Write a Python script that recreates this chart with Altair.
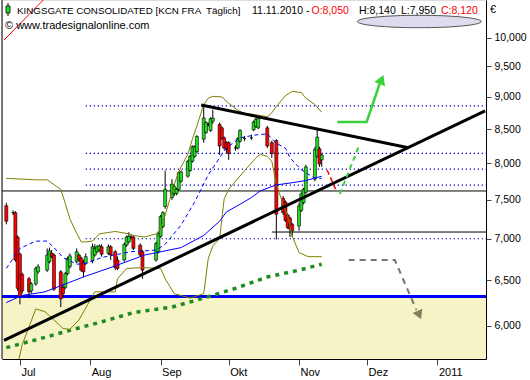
import altair as alt
import pandas as pd
import numpy as np

# ---------------- data ----------------
c_date = ["2010-06-25","2010-06-28","2010-06-29","2010-06-30","2010-07-01","2010-07-02",
          "2010-07-05","2010-07-06","2010-07-08","2010-07-09",
          "2010-07-13","2010-07-14","2010-07-15","2010-07-16",
          "2010-07-19","2010-07-20","2010-07-21","2010-07-22","2010-07-23",
          "2010-07-26","2010-07-27","2010-07-28","2010-07-29","2010-07-30",
          "2010-08-02","2010-08-03","2010-08-04","2010-08-05","2010-08-06",
          "2010-08-09","2010-08-10","2010-08-12","2010-08-13",
          "2010-08-16","2010-08-17","2010-08-18","2010-08-19","2010-08-20",
          "2010-08-23","2010-08-24",
          "2010-08-30","2010-08-31","2010-09-01","2010-09-02","2010-09-03",
          "2010-09-06","2010-09-07","2010-09-08","2010-09-09","2010-09-10",
          "2010-09-13","2010-09-14","2010-09-15","2010-09-16","2010-09-17",
          "2010-09-20","2010-09-21","2010-09-22","2010-09-23","2010-09-24",
          "2010-09-27","2010-09-28","2010-09-29","2010-09-30","2010-10-01",
          "2010-10-04","2010-10-05","2010-10-06","2010-10-08",
          "2010-10-11","2010-10-12","2010-10-13","2010-10-14",
          "2010-10-18","2010-10-20","2010-10-22",
          "2010-10-25","2010-10-26","2010-10-27","2010-10-28","2010-10-29",
          "2010-11-01","2010-11-02","2010-11-03","2010-11-04",
          "2010-11-08","2010-11-09","2010-11-10","2010-11-11"]
c_open = [7.42, 7.33, 7.33, 7.02, 6.81, 6.57,
          6.52, 6.38, 6.46, 6.60,
          6.62, 6.72, 6.82, 6.80,
          6.60, 6.42, 6.42, 6.58, 6.66,
          6.72, 6.80, 6.76, 6.72, 6.70,
          6.73, 6.80, 6.84, 6.86, 6.90,
          6.82, 6.90, 6.84, 6.74,
          6.74, 6.92, 6.96, 7.02, 7.02,
          6.92, 6.84,
          6.74, 6.84, 7.03, 7.15, 7.41,
          7.53, 7.58, 7.58, 7.64, 7.75,
          7.82, 7.90, 8.03, 8.10, 8.17,
          8.35, 8.45, 8.57, 8.48, 8.62,
          8.57, 8.52, 8.37, 8.30, 8.30,
          8.22, 8.22, 8.32, 8.36,
          8.37, 8.49, 8.54, 8.52,
          8.52, 8.30, 8.33,
          7.52, 7.47, 7.30, 7.26, 7.18,
          7.16, 7.36, 7.46, 7.60,
          7.78, 8.10, 8.21, 8.05]
c_high = [7.46, 7.36, 7.35, 7.04, 6.83, 6.59,
          6.54, 6.48, 6.66, 6.69,
          6.88, 6.89, 6.86, 6.82,
          6.62, 6.45, 6.60, 6.78, 6.82,
          6.88, 6.82, 6.78, 6.74, 6.82,
          6.94, 6.93, 6.92, 6.93, 6.93,
          6.93, 6.92, 6.86, 6.78,
          6.95, 7.04, 7.08, 7.05, 7.04,
          6.94, 6.86,
          6.96, 7.08, 7.30, 7.35, 7.90,
          7.78, 7.70, 7.66, 7.89, 7.90,
          8.05, 8.12, 8.26, 8.26, 8.41,
          8.86, 8.62, 8.60, 8.68, 8.80,
          8.60, 8.54, 8.39, 8.32, 8.32,
          8.26, 8.38, 8.50, 8.40,
          8.42, 8.63, 8.67, 8.70,
          8.55, 8.33, 8.35,
          7.55, 7.49, 7.32, 7.28, 7.20,
          7.46, 7.60, 7.66, 7.98,
          8.24, 8.50, 8.24, 8.14]
c_low = [7.18, 7.30, 6.72, 6.38, 6.23, 6.35,
         6.30, 6.35, 6.44, 6.58,
         6.60, 6.70, 6.76, 6.38,
         6.20, 6.30, 6.40, 6.56, 6.64,
         6.70, 6.72, 6.60, 6.54, 6.68,
         6.70, 6.78, 6.82, 6.84, 6.78,
         6.80, 6.74, 6.62, 6.62,
         6.72, 6.90, 6.94, 6.99, 6.86,
         6.78, 6.52,
         6.72, 6.82, 7.01, 7.13, 7.38,
         7.50, 7.55, 7.56, 7.62, 7.73,
         7.80, 7.88, 8.01, 8.08, 8.15,
         8.30, 8.43, 8.54, 8.46, 8.58,
         8.12, 8.34, 8.20, 8.15, 8.05,
         8.18, 8.20, 8.30, 8.32,
         8.34, 8.47, 8.52, 8.50,
         8.22, 8.08, 6.99,
         7.30, 7.21, 7.12, 7.02, 7.02,
         7.10, 7.34, 7.44, 7.58,
         7.75, 8.08, 7.95, 7.95]
c_close = [7.22, 7.33, 6.74, 6.41, 6.32, 6.38,
           6.37, 6.46, 6.64, 6.66,
           6.80, 6.85, 6.78, 6.40,
           6.29, 6.35, 6.58, 6.76, 6.79,
           6.84, 6.74, 6.62, 6.60, 6.78,
           6.90, 6.88, 6.90, 6.91, 6.81,
           6.90, 6.80, 6.65, 6.64,
           6.93, 7.02, 7.03, 7.02, 6.88,
           6.80, 6.62,
           6.94, 7.06, 7.28, 7.33, 7.64,
           7.71, 7.68, 7.64, 7.87, 7.88,
           8.03, 8.10, 8.24, 8.24, 8.39,
           8.67, 8.60, 8.57, 8.66, 8.67,
           8.25, 8.36, 8.22, 8.20, 8.14,
           8.22, 8.36, 8.48, 8.36,
           8.37, 8.61, 8.65, 8.66,
           8.25, 8.14, 7.31,
           7.33, 7.23, 7.14, 7.12, 7.10,
           7.42, 7.58, 7.64, 7.95,
           8.20, 8.38, 7.99, 8.12]

# Bollinger bands
ub_date = ["2010-06-25","2010-07-08","2010-07-13","2010-07-19","2010-07-21","2010-07-23","2010-07-26",
           "2010-07-28","2010-07-30","2010-08-02","2010-08-05","2010-08-12","2010-08-18","2010-08-20",
           "2010-08-25","2010-08-30","2010-09-01","2010-09-03","2010-09-06","2010-09-08","2010-09-10",
           "2010-09-13","2010-09-15","2010-09-17","2010-09-20","2010-09-22","2010-09-24","2010-09-28",
           "2010-10-01","2010-10-05","2010-10-08","2010-10-13","2010-10-18","2010-10-20","2010-10-22",
           "2010-10-26","2010-10-29","2010-11-02","2010-11-04","2010-11-08","2010-11-11"]
ub_val = [7.79, 7.77, 7.77, 7.64, 7.45, 7.25, 7.07, 6.96, 6.96, 6.97, 7.06, 7.09, 7.06, 7.04,
          7.02, 7.06, 7.12, 7.30, 7.60, 7.80, 7.95, 8.13, 8.35, 8.55, 8.88, 8.98, 9.01, 9.00,
          8.90, 8.79, 8.74, 8.72, 8.69, 8.75, 8.85, 9.02, 9.09, 9.07, 8.98, 8.88, 8.76]
lb_date = ["2010-06-25","2010-06-30","2010-07-02","2010-07-06","2010-07-08","2010-07-12","2010-07-16",
           "2010-07-20","2010-07-23","2010-07-27","2010-08-03","2010-08-12","2010-08-13","2010-08-17",
           "2010-08-24","2010-09-01","2010-09-03","2010-09-07","2010-09-14","2010-09-20","2010-09-22",
           "2010-09-24","2010-09-27","2010-09-29","2010-10-01","2010-10-07","2010-10-13","2010-10-15",
           "2010-10-18","2010-10-20","2010-10-22","2010-10-25","2010-10-27","2010-10-29","2010-11-01",
           "2010-11-05","2010-11-11"]
lb_val = [5.45, 5.60, 5.80, 6.05, 6.18, 6.15, 6.06, 5.97, 5.96, 6.06, 6.37, 6.37, 6.52, 6.64,
          6.65, 6.64, 6.52, 6.35, 6.30, 6.35, 6.76, 6.91, 7.00, 7.51, 7.64, 7.86, 8.08, 8.13,
          8.10, 8.03, 7.71, 7.44, 7.28, 7.03, 6.83, 6.78, 6.78]

# moving averages
mf_date = ["2010-06-25","2010-07-01","2010-07-08","2010-07-13","2010-07-16","2010-07-20","2010-07-26",
           "2010-07-30","2010-08-06","2010-08-19","2010-08-30","2010-09-03","2010-09-10","2010-09-16",
           "2010-09-22","2010-09-27","2010-09-30","2010-10-06","2010-10-12","2010-10-18","2010-10-22",
           "2010-10-26","2010-10-28","2010-11-02","2010-11-08","2010-11-11"]
mf_val = [6.64, 6.88, 6.97, 6.97, 6.89, 6.77, 6.69, 6.70, 6.77, 6.84, 6.86, 6.93, 7.17, 7.47,
          7.84, 8.08, 8.22, 8.37, 8.41, 8.43, 8.29, 8.22, 8.08, 7.91, 7.79, 7.79]
ms_date = ["2010-06-25","2010-07-02","2010-07-12","2010-07-23","2010-07-30","2010-08-11","2010-08-19",
           "2010-08-25","2010-09-03","2010-09-10","2010-09-20","2010-09-27","2010-09-30","2010-10-06",
           "2010-10-11","2010-10-15","2010-10-22","2010-10-29","2010-11-04","2010-11-11"]
ms_val = [6.25, 6.33, 6.37, 6.48, 6.55, 6.66, 6.74, 6.80, 6.85, 6.89, 7.04, 7.22, 7.34, 7.44,
          7.53, 7.62, 7.70, 7.73, 7.76, 7.82]
ml_date = ["2010-06-25","2010-07-08","2010-07-23","2010-08-06","2010-08-20","2010-09-06","2010-09-20",
           "2010-10-04","2010-10-18","2010-11-01","2010-11-11"]
ml_val = [5.77, 5.85, 5.95, 6.04, 6.14, 6.20, 6.30, 6.41, 6.54, 6.62, 6.69]

# horizontal levels
dotted_levels = [8.857, 8.144, 7.920, 7.696, 6.999]
dotted_start = "2010-07-30"
black_full_level = [7.618]
black_part_level = [7.083]
black_part_start = "2010-10-20"
support_level = [6.318]

# trend lines
rise_date = ["2010-06-24", "2011-01-22"]
rise_val = [5.844, 8.780]
fall_date = ["2010-09-18T21:00:00Z", "2010-12-19T06:00:00Z"]
fall_val = [8.872, 8.224]
redline_date = ["2010-06-24", "2010-07-13"]
redline_val = [9.956, 10.764]

# annotations
green_arrow_date = ["2010-11-17T21:00:00Z", "2010-11-30T19:00:00Z", "2010-12-06T12:00:00Z"]
green_arrow_val = [8.609, 8.609, 9.209]
green_head_date = ["2010-12-07T09:00:00Z"]
green_head_val = [9.282]
gray_arrow_date = ["2010-11-22T21:00:00Z", "2010-12-13T05:00:00Z", "2010-12-22T17:00:00Z"]
gray_arrow_val = [6.740, 6.740, 6.169]
gray_head_date = ["2010-12-24T00:00:00Z"]
gray_head_val = [6.114]
red_dash_date = ["2010-11-13T09:00:00Z", "2010-11-17T07:00:00Z"]
red_dash_val = [7.906, 7.631]
green_dash_date = ["2010-11-19T00:00:00Z", "2010-11-27T05:00:00Z"]
green_dash_val = [7.577, 8.235]
ellipse_date = ["2010-12-24"]
ellipse_val = [10.288]

y_ticks = [6.0, 6.5, 7.0, 7.5, 8.0, 8.5, 9.0, 9.5, 10.0]
month_ticks = [(2010, 7), (2010, 8), (2010, 9), (2010, 10), (2010, 11), (2010, 12), (2011, 1)]

header_main = "KINGSGATE CONSOLIDATED [KCN FRA \u00a0Täglich]"
header_date = "11.11.2010 -"
header_o = "O:8,050"
header_h = "H:8,140"
header_l = "L:7,950"
header_c = "C:8,120"
header_site = "© www.tradesignalonline.com"
currency = "€"

# ---------------- chart ----------------
W, H = 484, 359
FONT = "Liberation Sans"
GREEN = "#22dd22"
ARROW_GREEN = "#3ccf3c"

xs = alt.Scale(type="utc", nice=False,
               domain=[alt.DateTime(year=2010, month=6, date=25, hours=7, minutes=16, utc=True),
                       alt.DateTime(year=2011, month=1, date=20, hours=4, minutes=34, utc=True)])
ys = alt.Scale(type="log", domain=[5.655, 10.688], nice=False)

xa = alt.Axis(values=[alt.DateTime(year=y, month=m, date=1, utc=True) for y, m in month_ticks],
              labelExpr="utcmonth(datum.value) == 0 ? '' + utcyear(datum.value) : "
                        "['Jan','Feb','Mär','Apr','Mai','Jun','Jul','Aug','Sep','Okt','Nov','Dez'][utcmonth(datum.value)]",
              title=None, grid=False, domainColor="black", tickColor="#444", tickSize=6,
              labelAlign="left", labelBaseline="top", labelPadding=1, labelOffset=1,
              labelFont=FONT, labelFontSize=11, labelColor="black",
              labelFlush=False, labelOverlap=False)
ya = alt.Axis(orient="right", values=y_ticks,
              labelExpr="replace(format(datum.value, '.3f'), '.', ',')",
              title=None, grid=False, domainColor="black", tickColor="#444", tickSize=5,
              labelPadding=3, labelFont=FONT, labelFontSize=10.5, labelColor="black",
              labelAlign="left", labelBaseline="middle", labelFlush=False, labelOverlap=False)


def X(f="date"):
    return alt.X(f"{f}:T", scale=xs, axis=xa)


def Y(f="price"):
    return alt.Y(f"{f}:Q", scale=ys, axis=ya)


def series(dates, vals):
    return pd.DataFrame({"date": dates, "price": vals})


one = pd.DataFrame({"k": [0]})

candles = pd.DataFrame({"date": c_date, "open": c_open, "high": c_high,
                        "low": c_low, "close": c_close})
candles["dir"] = np.where(candles.close > candles.open, "up",
                          np.where(candles.close < candles.open, "down", "flat"))

layers = []
# yellow support zone
layers.append(alt.Chart(pd.DataFrame({"price": support_level})).mark_rect(color="#f6f3c6").encode(
    y=Y(), y2=alt.value(H), x=alt.value(0), x2=alt.value(W)))
# horizontal levels
layers.append(alt.Chart(pd.DataFrame({"date": [dotted_start] * len(dotted_levels), "price": dotted_levels}))
              .mark_rule(color="#0000cc", strokeWidth=1.2, strokeDash=[1.3, 2.7])
              .encode(x=X(), x2=alt.value(W), y=Y()))
layers.append(alt.Chart(pd.DataFrame({"price": black_full_level})).mark_rule(color="black", strokeWidth=1)
              .encode(y=Y(), x=alt.value(0), x2=alt.value(W)))
layers.append(alt.Chart(pd.DataFrame({"date": [black_part_start], "price": black_part_level}))
              .mark_rule(color="black", strokeWidth=1).encode(x=X(), x2=alt.value(W), y=Y()))
layers.append(alt.Chart(pd.DataFrame({"price": support_level})).mark_rule(color="#0000ff", strokeWidth=3)
              .encode(y=Y(), x=alt.value(0), x2=alt.value(W)))
# candles
layers.append(alt.Chart(candles).mark_rule(color="black", strokeWidth=1, clip=True).encode(
    x=X(), y=Y("low"), y2=alt.Y2("high")))
layers.append(alt.Chart(candles).mark_bar(size=3, stroke="black", strokeWidth=0.6, clip=True).encode(
    x=X(), y=Y("open"), y2=alt.Y2("close"),
    color=alt.Color("dir:N", scale=alt.Scale(domain=["up", "down", "flat"],
                                             range=[GREEN, "#ff0000", "#000000"]), legend=None)))
# indicators
layers.append(alt.Chart(series(ml_date, ml_val)).mark_line(color="#1f8a1f", strokeWidth=3.5, strokeDash=[4, 5], clip=True)
              .encode(x=X(), y=Y()))
layers.append(alt.Chart(series(ub_date, ub_val)).mark_line(color="#808000", strokeWidth=1, clip=True)
              .encode(x=X(), y=Y()))
layers.append(alt.Chart(series(lb_date, lb_val)).mark_line(color="#808000", strokeWidth=1, clip=True)
              .encode(x=X(), y=Y()))
layers.append(alt.Chart(series(ms_date, ms_val)).mark_line(color="#0000ff", strokeWidth=1, clip=True)
              .encode(x=X(), y=Y()))
layers.append(alt.Chart(series(mf_date, mf_val)).mark_line(color="#0000ff", strokeWidth=1, strokeDash=[4, 3], clip=True)
              .encode(x=X(), y=Y()))
# trend lines
layers.append(alt.Chart(series(rise_date, rise_val)).mark_line(color="black", strokeWidth=3, clip=True)
              .encode(x=X(), y=Y()))
layers.append(alt.Chart(series(fall_date, fall_val)).mark_line(color="black", strokeWidth=3, clip=True)
              .encode(x=X(), y=Y()))
layers.append(alt.Chart(series(redline_date, redline_val)).mark_line(color="#ff0000", strokeWidth=1, clip=True)
              .encode(x=X(), y=Y()))
# annotations
layers.append(alt.Chart(series(red_dash_date, red_dash_val)).mark_line(color="#ff0000", strokeWidth=1.5, strokeDash=[5, 3])
              .encode(x=X(), y=Y()))
layers.append(alt.Chart(series(green_dash_date, green_dash_val)).mark_line(color=ARROW_GREEN, strokeWidth=2, strokeDash=[5, 4])
              .encode(x=X(), y=Y()))
layers.append(alt.Chart(series(green_arrow_date, green_arrow_val)).mark_line(color=ARROW_GREEN, strokeWidth=2.5)
              .encode(x=X(), y=Y()))
layers.append(alt.Chart(series(green_head_date, green_head_val)).mark_point(
    shape="triangle-up", filled=True, size=130, angle=22, color=ARROW_GREEN, opacity=1).encode(x=X(), y=Y()))
layers.append(alt.Chart(series(gray_arrow_date, gray_arrow_val)).mark_line(color="#77776a", strokeWidth=2, strokeDash=[6, 5])
              .encode(x=X(), y=Y()))
layers.append(alt.Chart(series(gray_head_date, gray_head_val)).mark_point(
    shape="triangle-down", filled=True, size=110, angle=336, color="#808060", opacity=1).encode(x=X(), y=Y()))
layers.append(alt.Chart(series(ellipse_date, ellipse_val)).mark_point(
    shape="M -1 0 A 1 0.1 0 1 1 1 0 A 1 0.1 0 1 1 -1 0 Z", size=124 * 124, filled=True,
    fill="#dcdcee", stroke="#555555", strokeWidth=1, opacity=1).encode(x=X(), y=Y()))

# frame (left border)
layers.append(alt.Chart(one).mark_rule(color="black", strokeWidth=1).encode(
    x=alt.value(0), y=alt.value(0), y2=alt.value(H)))

# header
def txt(s, x, y, color="black", size=10.5):
    return alt.Chart(one).mark_text(align="left", baseline="middle", font=FONT, fontSize=size, color=color).encode(
        x=alt.value(x), y=alt.value(y), text=alt.value(s))

layers.append(alt.Chart(one).mark_rule(color="black", strokeWidth=1).encode(
    x=alt.value(6), y=alt.value(3), y2=alt.value(16)))
layers.append(alt.Chart(one).mark_rect(color=GREEN, stroke="black", strokeWidth=0.8).encode(
    x=alt.value(4), x2=alt.value(8), y=alt.value(6), y2=alt.value(13)))
layers.append(txt(header_main, 15, 11, size=9.8))
layers.append(txt(header_date, 250, 11))
layers.append(txt(header_o, 309.5, 11, "#ff0000"))
layers.append(txt(header_h, 357, 11))
layers.append(txt(header_l, 399, 11))
layers.append(txt(header_c, 439, 11, "#ff0000"))
layers.append(txt(header_site, 3, 26, size=11))
layers.append(txt(currency, 488, 10, size=11))

chart = alt.layer(*layers).properties(
    width=W, height=H,
    padding={"left": 2, "top": 0, "right": 44, "bottom": 21},
    autosize=alt.AutoSizeParams(type="none"),
).configure_view(fill="#f4f4f4", stroke=None).configure(background="white")

chart.save("out.html", embed_options={"renderer": "svg", "actions": False})
